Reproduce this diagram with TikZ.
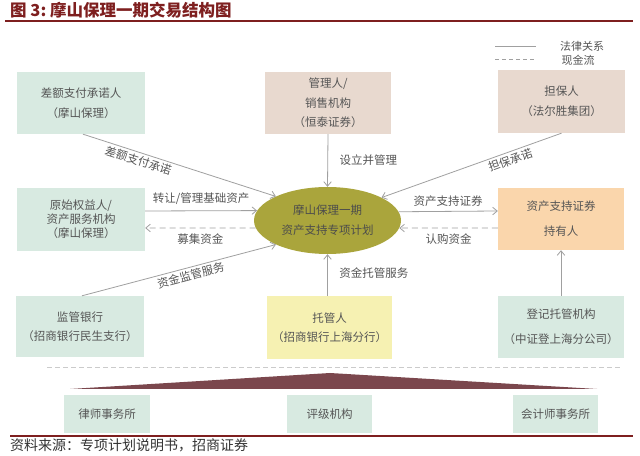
\documentclass[tikz,border=0pt]{standalone}
\usepackage{fontspec}
\newfontfamily\cjk{Noto Sans CJK SC}
\usetikzlibrary{arrows.meta,calc,shapes.geometric}
\definecolor{mint}{HTML}{D8EAE1}
\definecolor{beige}{HTML}{E8D9CF}
\definecolor{peach}{HTML}{FAD6AC}
\definecolor{paleyellow}{HTML}{F6F1B2}
\definecolor{olive}{HTML}{AAA53C}
\definecolor{maroon}{HTML}{7B474D}
\definecolor{darkred}{HTML}{7E1F1F}
\definecolor{txt}{HTML}{555555}
\definecolor{lgray}{HTML}{A0A0A0}
\begin{document}
\begin{tikzpicture}[x=1bp,y=1bp,
  box/.style={rectangle, inner sep=0pt, align=center, text=txt,
    font=\cjk\fontsize{11.5bp}{20bp}\selectfont},
  lbl/.style={text=txt, inner sep=2.5bp, font=\cjk\fontsize{11.5bp}{13bp}\selectfont},
  arr/.style={draw=lgray, line width=0.8bp, -{Straight Barb[length=4.5bp,width=7.5bp]}},
  cash/.style={arr, dash pattern=on 6bp off 4bp}]
\useasboundingbox (0,0) rectangle (640,456);
\fill[white] (0,0) rectangle (640,456);

% title
\node[anchor=west, inner sep=0pt, text=darkred, font=\cjk\bfseries\fontsize{16.5bp}{18bp}\selectfont] (title) at (10,445.5) {图 3:\ 摩山保理一期交易结构图};
\coordinate (topL) at (5,435);
\coordinate (topR) at (633,435);
\draw[darkred, line width=2.5bp] (topL) -- (topR);

% legend
\coordinate (lg1a) at (495,410);
\coordinate (lg1b) at (536,410);
\coordinate (lg2a) at (495,397);
\coordinate (lg2b) at (537,397);
\draw[lgray, line width=0.8bp] (lg1a) -- (lg1b);
\draw[lgray, line width=0.8bp, dash pattern=on 4bp off 3bp] (lg2a) -- (lg2b);
\node[lbl, font=\cjk\fontsize{11bp}{12bp}\selectfont] (lgt1) at (582,410) {法律关系};
\node[lbl, font=\cjk\fontsize{11bp}{12bp}\selectfont] (lgt2) at (578,396) {现金流};

% boxes
\node[box, fill=mint, minimum width=128bp, minimum height=62bp] (cha) at (81,353) {差额支付承诺人\\（摩山保理）};
\node[box, fill=beige, minimum width=126bp, minimum height=62bp, font=\cjk\fontsize{11.5bp}{19.5bp}\selectfont] (gl) at (328,353) {管理人/\\销售机构\\（恒泰证券）};
\node[box, fill=beige, minimum width=127bp, minimum height=63bp] (db) at (561.5,354.5) {担保人\\（法尔胜集团）};
\node[box, fill=mint, minimum width=128bp, minimum height=63bp, font=\cjk\fontsize{11.5bp}{14bp}\selectfont] (ys) at (81,236.5) {原始权益人/\\资产服务机构\\（摩山保理）};
\node[ellipse, fill=olive, inner sep=0pt, minimum width=147bp, minimum height=67bp, align=center, text=black!70, font=\cjk\fontsize{11.5bp}{20bp}\selectfont] (ell) at (327.5,235.5) {摩山保理一期\\资产支持专项计划};
\node[box, fill=peach, minimum width=126bp, minimum height=62bp, font=\cjk\fontsize{11.5bp}{25bp}\selectfont] (cy) at (561,237) {资产支持证券\\持有人};
\node[box, fill=mint, minimum width=128bp, minimum height=61bp, font=\cjk\fontsize{11.5bp}{19bp}\selectfont] (jg) at (80,129.5) {监管银行\\（招商银行民生支行）};
\node[box, fill=paleyellow, minimum width=125bp, minimum height=63bp, font=\cjk\fontsize{11.5bp}{19bp}\selectfont] (tg) at (329.5,128.5) {托管人\\（招商银行上海分行）};
\node[box, fill=mint, minimum width=126bp, minimum height=62bp, font=\cjk\fontsize{11.5bp}{25bp}\selectfont] (dj) at (561,129) {登记托管机构\\（中证登上海分公司）};

% separator and triangle
\coordinate (sepL) at (47,88);
\coordinate (sepR) at (622,88);
\draw[lgray!55, line width=1bp, dash pattern=on 5bp off 3bp] (sepL) -- (sepR);
\coordinate (triL) at (70,67);
\coordinate (triT) at (330,83);
\coordinate (triR) at (597,67);
\fill[maroon] (triL) -- (triT) -- (triR) -- cycle;

\node[box, fill=mint, minimum width=86bp, minimum height=38bp] (ls) at (107,42) {律师事务所};
\node[box, fill=mint, minimum width=85bp, minimum height=38bp] (pj) at (329.5,42) {评级机构};
\node[box, fill=mint, minimum width=85bp, minimum height=38bp] (kj) at (555.5,42) {会计师事务所};

% bottom rule and source
\coordinate (botL) at (10,20);
\coordinate (botR) at (633,20);
\draw[darkred, line width=1.8bp] (botL) -- (botR);
\node[anchor=west, inner sep=0pt, text=black!80, font=\cjk\fontsize{14bp}{16bp}\selectfont] (src) at (10,11) {资料来源：专项计划说明书，招商证券};

% connectors
\draw[arr] ($(cha.south)+(2,0)$) -- node[lbl, sloped, below, pos=0.3] {差额支付承诺} (ell.155);
\draw[arr] (gl.south) -- node[lbl, right, pos=0.5, xshift=9bp] {设立并管理} (ell.north);
\draw[arr] (db.south) -- (ell.23);
\path (ell.23) -- node[lbl, sloped, below, pos=0.7] {担保承诺} (db.south);
\draw[arr] ($(ys.east)+(0,8.5)$) -- node[lbl, above, yshift=3bp] {转让/管理基础资产} (ell.172.3);
\draw[cash] (ell.186) -- node[lbl, below, yshift=-2.5bp] {募集资金} ($(ys.east)+(0,-8.5)$);
\draw[arr] (ell.7.7) -- node[lbl, above, yshift=2bp] {资产支持证券} ($(cy.west)+(0,8)$);
\draw[cash] ($(cy.west)+(0,-9)$) -- node[lbl, below, yshift=-2.5bp] {认购资金} (ell.354);
\draw[arr] ($(jg.north)+(2,0)$) -- node[lbl, sloped, below, pos=0.55] {资金监管服务} (ell.205);
\draw[arr] ($(tg.north)+(-2,0)$) -- node[lbl, right, pos=0.55, xshift=9bp] {资金托管服务} (ell.south);
\draw[arr] (dj.north) -- (cy.south);
\end{tikzpicture}
\end{document}
